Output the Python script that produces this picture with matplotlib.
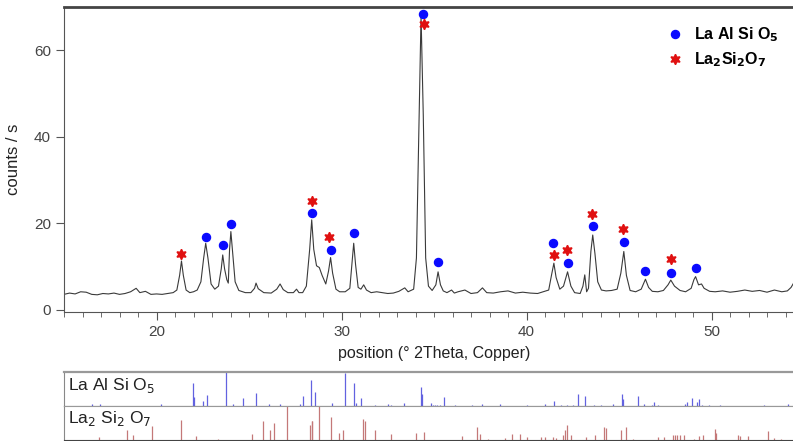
import numpy as np
import matplotlib
matplotlib.use("Agg")
import matplotlib.pyplot as plt

plt.rcParams['font.family'] = ['Liberation Sans', 'DejaVu Sans']

two_theta = [15.0, 15.3, 15.6, 15.9, 16.2, 16.5, 16.8, 17.1, 17.4, 17.7, 18.0, 18.3, 18.6, 18.9,
             19.1, 19.4, 19.7, 20.0, 20.3, 20.6, 20.9, 21.1, 21.25, 21.35, 21.45, 21.6, 21.8,
             22.0, 22.2, 22.4, 22.55, 22.66, 22.78, 22.95, 23.15, 23.35, 23.5, 23.58, 23.68,
             23.8, 23.88, 23.95, 24.02, 24.1, 24.25, 24.45, 24.8, 25.1, 25.3, 25.38, 25.5,
             25.8, 26.2, 26.5, 26.68, 26.85, 27.1, 27.4, 27.57, 27.7, 27.9, 28.1, 28.28,
             28.39, 28.5, 28.65, 28.8, 28.95, 29.15, 29.3, 29.41, 29.52, 29.7, 29.9, 30.2,
             30.45, 30.57, 30.66, 30.76, 30.9, 31.05, 31.2, 31.35, 31.6, 31.9, 32.2, 32.5,
             32.8, 33.1, 33.42, 33.6, 33.9, 34.05, 34.2, 34.3, 34.42, 34.55, 34.7, 34.9,
             35.1, 35.22, 35.35, 35.5, 35.7, 35.95, 36.1, 36.3, 36.67, 37.0, 37.35, 37.62,
             37.85, 38.2, 38.6, 39.0, 39.4, 39.8, 40.2, 40.6, 40.9, 41.2, 41.35, 41.48,
             41.6, 41.8, 42.0, 42.22, 42.4, 42.6, 42.9, 43.05, 43.15, 43.25, 43.35, 43.48,
             43.58, 43.7, 43.85, 44.05, 44.3, 44.6, 44.9, 45.1, 45.26, 45.4, 45.6, 45.9,
             46.2, 46.43, 46.6, 46.8, 47.1, 47.4, 47.65, 47.8, 48.0, 48.3, 48.6, 48.9,
             49.05, 49.14, 49.3, 49.46, 49.6, 49.9, 50.2, 50.6, 51.0, 51.4, 51.8, 52.2,
             52.6, 53.0, 53.4, 53.8, 54.1, 54.3, 54.45, 54.6, 55.0]
counts = [3.6, 3.9, 3.7, 4.2, 4.1, 3.6, 3.5, 3.8, 3.7, 3.9, 3.6, 3.8, 4.2, 5.0,
          4.0, 4.3, 3.6, 3.7, 3.6, 3.8, 4.0, 4.6, 8.0, 11.3, 8.0, 4.6, 4.0,
          4.2, 4.6, 6.5, 12.0, 15.4, 12.0, 6.0, 4.8, 5.5, 9.5, 12.7, 9.5,
          7.0, 6.2, 14.0, 18.1, 14.0, 6.5, 4.5, 4.0, 4.0, 5.0, 6.2, 4.9,
          4.0, 3.9, 4.8, 6.0, 4.7, 4.0, 4.0, 4.8, 4.0, 4.0, 5.5, 14.0,
          20.8, 14.0, 10.2, 9.8, 8.0, 6.0, 9.0, 12.1, 8.5, 4.8, 4.2, 4.2,
          5.0, 11.0, 15.4, 10.5, 5.2, 4.8, 5.8, 4.6, 4.0, 4.2, 4.0, 3.8,
          3.9, 4.3, 5.1, 4.2, 4.8, 12.0, 45.0, 68.0, 45.0, 12.0, 5.5, 4.5,
          5.8, 8.8, 5.8, 4.4, 4.0, 4.6, 3.9, 4.2, 4.6, 3.8, 4.0, 5.1,
          4.0, 3.9, 4.2, 4.4, 3.9, 4.1, 3.9, 3.8, 4.2, 4.6, 8.0, 10.8,
          7.5, 4.8, 5.5, 8.8, 5.5, 4.0, 3.8, 5.5, 8.1, 4.2, 5.0, 13.5,
          17.3, 13.0, 6.5, 4.6, 4.4, 4.5, 4.8, 8.5, 13.5, 8.0, 4.5, 4.2,
          4.8, 7.1, 5.2, 4.3, 4.2, 4.5, 5.8, 6.9, 5.5, 4.5, 4.2, 5.0,
          7.0, 7.7, 5.8, 6.0, 5.0, 4.3, 4.2, 4.4, 4.1, 4.3, 4.6, 4.3,
          4.5, 4.1, 4.6, 4.2, 4.4, 5.2, 6.3, 5.5, 4.5]

# phase markers
laalsio5_x = [22.66, 23.58, 24.05, 28.43, 29.41, 30.66, 34.42, 35.22, 41.44, 42.22, 43.58,
              45.26, 46.43, 47.83, 49.14]
laalsio5_y = [16.9, 14.9, 19.8, 22.4, 13.8, 17.7, 68.2, 11.1, 15.5, 10.9, 19.4, 15.6, 9.1,
              8.6, 9.6]
la2si2o7_x = [21.35, 28.39, 29.32, 34.45, 41.49, 42.2, 43.55, 45.24, 47.8]
la2si2o7_y = [12.9, 25.1, 16.8, 66.0, 12.6, 13.8, 22.1, 18.8, 11.7]

# reference stick patterns (position, relative intensity %)
ref1_pos = [16.49, 16.97, 20.23, 21.96, 22.03, 22.52, 22.72, 23.73, 24.12, 24.7, 25.37,
            26.07, 26.7, 27.75, 27.93, 28.34, 28.56, 29.49, 30.18, 30.65, 30.76, 31.03,
            31.8, 32.52, 32.67, 33.38, 34.32, 34.36, 34.83, 34.92, 35.04, 35.17, 35.31,
            35.53, 36.12, 37.03, 37.6, 38.56, 40.0, 40.99, 41.48, 41.84, 42.2, 42.49,
            42.79, 43.15, 43.64, 44.0, 44.65, 45.17, 45.2, 46.03, 46.36, 46.76, 46.9,
            47.11, 48.56, 48.7, 48.92, 49.19, 49.33, 49.49, 49.85, 50.45, 52.84, 54.14]
ref1_int = [7, 7, 7, 68, 26, 15, 32, 100, 7, 24, 39,
            7, 7, 7, 29, 78, 42, 9, 97, 68, 9, 23,
            5, 6, 5, 10, 56, 35, 10, 5, 5, 5, 5,
            26, 4, 4, 6, 8, 4, 8, 16, 4, 4, 4,
            35, 30, 4, 4, 6, 36, 20, 30, 8, 5, 13,
            4, 8, 13, 23, 13, 20, 5, 4, 4, 5, 8]
ref2_pos = [16.88, 18.38, 18.74, 19.76, 21.31, 22.16, 23.33, 25.17, 25.76, 26.12, 26.34,
            27.06, 28.29, 28.38, 28.43, 28.77, 29.42, 29.85, 30.09, 31.17, 31.26, 31.8,
            32.67, 34.0, 34.45, 36.52, 37.35, 37.48, 37.92, 38.83, 39.19, 39.64, 40.0,
            40.81, 40.99, 41.44, 41.62, 41.95, 42.07, 42.2, 42.43, 43.24, 43.69, 44.2,
            44.32, 45.1, 45.37, 45.76, 47.11, 47.44, 47.92, 48.02, 48.14, 48.28, 48.52,
            49.06, 49.31, 49.55, 50.18, 50.27, 51.44, 51.53, 51.98, 53.06, 53.38, 53.78]
ref2_int = [8, 30, 13, 40, 60, 11, 3, 18, 55, 28, 50,
            100, 45, 55, 57, 100, 67, 20, 28, 63, 55, 28,
            18, 20, 23, 12, 37, 17, 3, 5, 18, 18, 7,
            8, 8, 8, 5, 15, 30, 45, 15, 7, 13, 37,
            35, 30, 37, 3, 7, 7, 13, 13, 13, 13, 13,
            3, 10, 15, 32, 20, 15, 12, 10, 25, 5, 3]

W, H = 793, 441
fig = plt.figure(figsize=(W / 100, H / 100), dpi=100)

def frac(x0, y0, x1, y1):
    return [x0 / W, 1 - y1 / H, (x1 - x0) / W, (y1 - y0) / H]

grey = '#555555'

# main pattern
ax = fig.add_axes(frac(64, 6.7, 804, 311.7))
ax.plot(two_theta, counts, color='#3a3a3a', lw=0.8)
ax.plot(laalsio5_x, laalsio5_y, 'o', color='#0a0aff', ms=5.8, ls='none',
        label='La Al Si O$_\\mathbf{5}$')
ax.plot(la2si2o7_x, la2si2o7_y, marker=(6, 1, 0), color='#e01010', ms=7.5, ls='none',
        label='La$_\\mathbf{2}$Si$_\\mathbf{2}$O$_\\mathbf{7}$')
ax.set_xlim(15, 55)
ax.set_ylim(-0.4, 70)
ax.set_xticks([20, 30, 40, 50])
ax.set_xticks(np.arange(15, 56, 1), minor=True)
ax.set_yticks([0, 20, 40, 60])
ax.tick_params(axis='both', which='major', length=6, color=grey, labelcolor='#444444',
               labelsize=11, direction='out')
ax.tick_params(axis='x', which='minor', length=3.5, color=grey)
for s in ['left', 'bottom']:
    ax.spines[s].set_color(grey)
ax.spines['right'].set_visible(False)
ax.spines['top'].set_color('#444444')
ax.spines['top'].set_linewidth(2)
ax.set_xlabel('position (° 2Theta, Copper)', fontsize=11.5, color='#222222', labelpad=5)
ax.set_ylabel('counts / s', fontsize=12, color='#222222', labelpad=9)
leg = fig.legend(loc='upper left', bbox_to_anchor=(662 / W, 1 - 19 / H), frameon=False,
                 prop={'weight': 'bold', 'size': 11.5}, handlelength=0.8, handletextpad=0.8,
                 labelspacing=0.4, borderaxespad=0)

# stick patterns
ax1 = fig.add_axes(frac(64, 372, 804, 406.3))
ax1.vlines(ref1_pos, 0, ref1_int, color='#6262e0', lw=0.9)
ax2 = fig.add_axes(frac(64, 406.3, 804, 439.7))
ax2.vlines(ref2_pos, 0, ref2_int, color='#c47878', lw=0.9)
for a, name in [(ax1, 'La Al Si O$_5$'), (ax2, 'La$_2$ Si$_2$ O$_7$')]:
    a.set_xlim(15, 55)
    a.set_ylim(0, 100)
    a.set_xticks([])
    a.set_yticks([])
    a.spines['right'].set_visible(False)
    a.spines['left'].set_color('#888888')
    a.spines['top'].set_color('#999999')
    a.spines['bottom'].set_color('#444444')
    a.text(0.006, 0.62, name, transform=a.transAxes, fontsize=12.5, color='#222222',
           va='center', ha='left')
ax1.spines['top'].set_linewidth(1.6)

fig.savefig('out.png', dpi=100)
